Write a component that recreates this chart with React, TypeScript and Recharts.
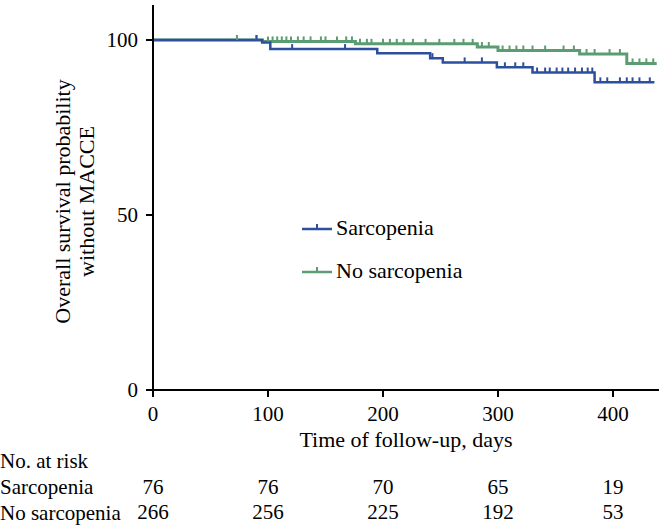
import React from 'react';
import { ComposedChart, Line, Scatter, XAxis, YAxis, Legend } from 'recharts';

// Kaplan-Meier steps (day, survival %)
const sarcDays = [0, 95, 102, 195, 241, 252, 299, 330, 384, 436];
const sarcSurv = [100, 99.3, 97.4, 96.2, 94.8, 93.6, 92.2, 90.7, 87.9, 87.9];
const noSarcDays = [0, 95, 176, 282, 300, 371, 412, 438];
const noSarcSurv = [100, 99.6, 98.9, 98.0, 97.0, 96.0, 93.3, 93.3];

// censored observations (days)
const sarcCensored = [90, 121, 167, 243, 271, 286, 306, 315, 322, 334, 341, 345, 351, 356, 361, 367, 373, 378, 382, 389, 395, 406, 412, 417, 423, 432];
const noSarcCensored = [73, 90, 100, 104, 108, 112, 116, 120, 126, 131, 137, 146, 150, 160, 168, 173, 180, 186, 190, 200, 206, 212, 218, 226, 237, 249, 262, 270, 278, 286, 292, 304, 310, 316, 322, 330, 341, 357, 366, 377, 384, 397, 406, 417, 423, 429, 435];

const timeTicks = [0, 100, 200, 300, 400];
const survTicks = [0, 50, 100];
const atRiskSarc = [76, 76, 70, 65, 19];
const atRiskNoSarc = [266, 256, 225, 192, 53];

const BLUE = '#2c4f9e';
const GREEN = '#5b9c72';
const FONT = '"Liberation Serif", "Times New Roman", serif';

const toSteps = (days: number[], surv: number[]) => days.map((d, i) => ({ day: d, surv: surv[i] }));
const survAt = (days: number[], surv: number[], t: number) => {
  let v = surv[0];
  days.forEach((d, i) => {
    if (d <= t) v = surv[i];
  });
  return v;
};

const sarcData = toSteps(sarcDays, sarcSurv);
const noSarcData = toSteps(noSarcDays, noSarcSurv);
const sarcCens = sarcCensored.map(d => ({ day: d, surv: survAt(sarcDays, sarcSurv, d) }));
const noSarcCens = noSarcCensored.map(d => ({ day: d, surv: survAt(noSarcDays, noSarcSurv, d) }));

const censorMark = (color: string) => (props: any) => (
  <line x1={props.cx} x2={props.cx} y1={props.cy} y2={props.cy - 5} stroke={color} strokeWidth={2} />
);

const LegendBox = () => (
  <div style={{ fontFamily: FONT, fontSize: 22, color: '#000' }}>
    {[{ name: 'Sarcopenia', color: BLUE }, { name: 'No sarcopenia', color: GREEN }].map((s, i) => (
      <div key={s.name} style={{ display: 'flex', alignItems: 'center', height: 24, marginBottom: i === 0 ? 19 : 0 }}>
        <svg width={32} height={24}>
          <line x1={0} x2={30} y1={13} y2={13} stroke={s.color} strokeWidth={2.5} />
          <line x1={15} x2={15} y1={13} y2={8} stroke={s.color} strokeWidth={2} />
        </svg>
        <span style={{ marginLeft: 2 }}>{s.name}</span>
      </div>
    ))}
  </div>
);

const tickStyle = { fontFamily: FONT, fontSize: 21, fill: '#000' };
const labelStyle = { fontFamily: FONT, fontSize: 22, fill: '#000' };

export default function App() {
  return (
    <div style={{ position: 'absolute', left: 0, top: 0 }}>
      <ComposedChart width={662} height={527} margin={{ top: 5, right: 3, left: 0, bottom: 1 }}>
        <XAxis
          dataKey="day"
          type="number"
          domain={[0, 440]}
          allowDataOverflow
          ticks={timeTicks}
          tick={tickStyle}
          tickSize={7}
          tickMargin={9}
          stroke="#000"
          strokeWidth={2}
          height={62}
          label={{ value: 'Time of follow-up, days', position: 'insideBottom', offset: 5, style: labelStyle }}
        />
        <XAxis
          xAxisId="r1"
          dataKey="day"
          type="number"
          domain={[0, 440]}
          allowDataOverflow
          ticks={timeTicks}
          tickFormatter={(v: number) => String(atRiskSarc[timeTicks.indexOf(v)])}
          tick={tickStyle}
          axisLine={false}
          tickLine={false}
          tickSize={0}
          tickMargin={27}
          height={50}
          label={(p: any) => (
            <g style={{ fontFamily: FONT, fontSize: 21 }}>
              <text x={0} y={p.viewBox.y + 16} fill="#000">No. at risk</text>
              <text x={0} y={p.viewBox.y + 42} fill="#000">Sarcopenia</text>
            </g>
          )}
        />
        <XAxis
          xAxisId="r2"
          dataKey="day"
          type="number"
          domain={[0, 440]}
          allowDataOverflow
          ticks={timeTicks}
          tickFormatter={(v: number) => String(atRiskNoSarc[timeTicks.indexOf(v)])}
          tick={tickStyle}
          axisLine={false}
          tickLine={false}
          tickSize={0}
          tickMargin={2}
          height={24}
          label={(p: any) => (
            <text x={0} y={p.viewBox.y + 18} fill="#000" style={{ fontFamily: FONT, fontSize: 21 }}>No sarcopenia</text>
          )}
        />
        <YAxis
          dataKey="surv"
          type="number"
          domain={[0, 110]}
          ticks={survTicks}
          tick={tickStyle}
          tickSize={7}
          tickMargin={8}
          stroke="#000"
          strokeWidth={2}
          width={153}
          label={(p: any) => {
            const cy = p.viewBox.y + p.viewBox.height / 2 + 4;
            return (
              <g style={{ fontFamily: FONT, fontSize: 22 }} fill="#000">
                <text x={70} y={cy} textAnchor="middle" transform={`rotate(-90, 70, ${cy})`}>Overall survival probability</text>
                <text x={94} y={cy} textAnchor="middle" transform={`rotate(-90, 94, ${cy})`}>without MACCE</text>
              </g>
            );
          }}
        />
        <Legend content={<LegendBox />} layout="horizontal" verticalAlign="middle" align="center" wrapperStyle={{ left: 302, top: 216, width: 200 }} />
        <Line data={noSarcData} dataKey="surv" type="stepAfter" stroke={GREEN} strokeWidth={3} dot={false} isAnimationActive={false} legendType="none" />
        <Line data={sarcData} dataKey="surv" type="stepAfter" stroke={BLUE} strokeWidth={2.5} dot={false} isAnimationActive={false} legendType="none" />
        <Scatter data={noSarcCens} dataKey="surv" shape={censorMark(GREEN)} isAnimationActive={false} legendType="none" />
        <Scatter data={sarcCens} dataKey="surv" shape={censorMark(BLUE)} isAnimationActive={false} legendType="none" />
      </ComposedChart>
    </div>
  );
}
